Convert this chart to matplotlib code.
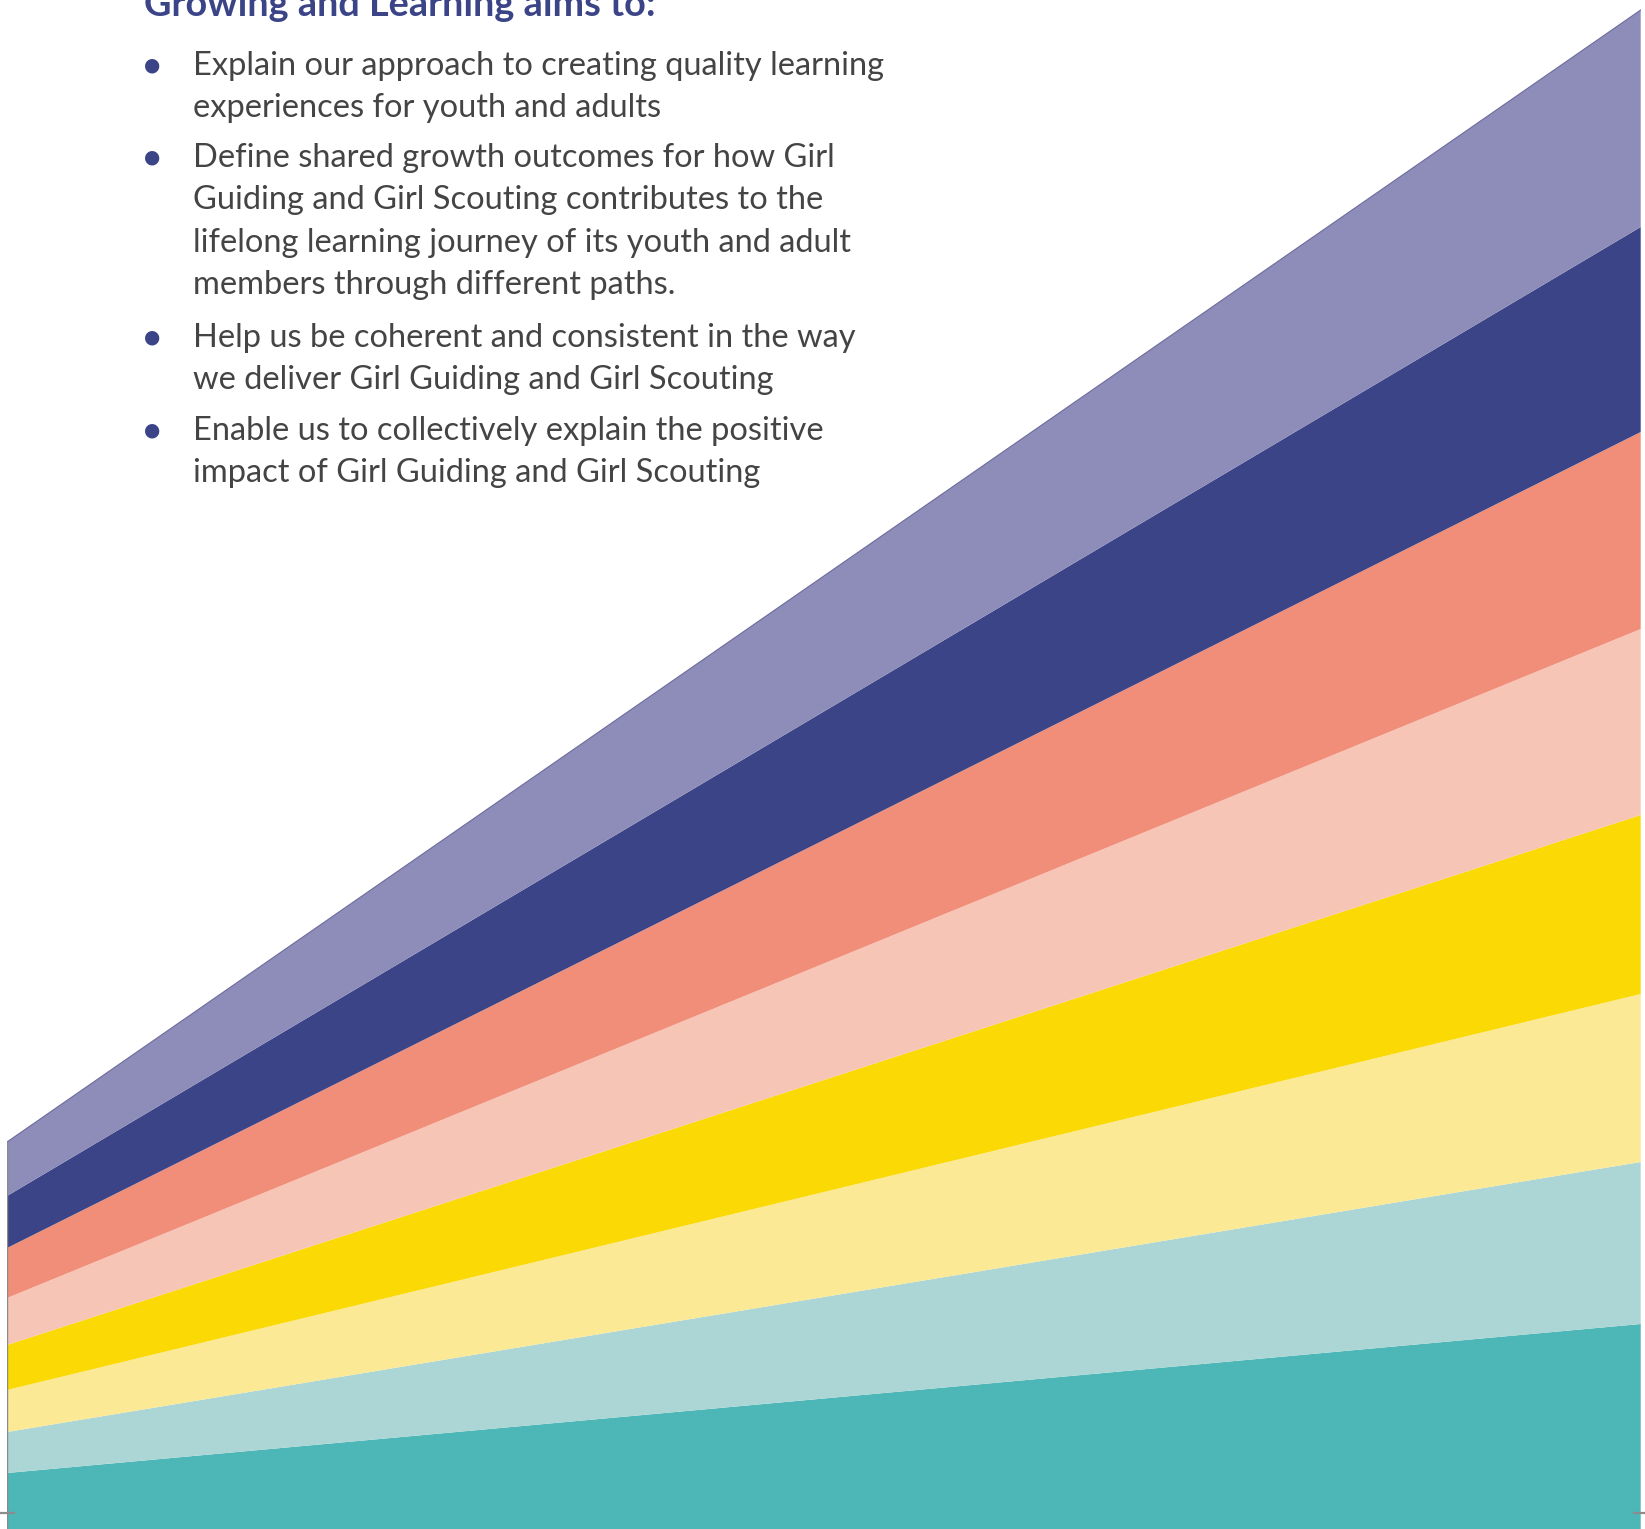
import matplotlib.pyplot as plt
from matplotlib.lines import Line2D

# band thicknesses (px) from bottom to top, at the left and right edge
bands = ['teal', 'light teal', 'light yellow', 'yellow', 'pink', 'salmon', 'navy', 'violet']
left_vals = [56, 41, 42, 45, 47, 50, 52, 54]
right_vals = [205, 162, 168, 179, 186, 197, 205, 217]
band_colors = ['#4db6b6', '#abd6d5', '#fbe995', '#fad905', '#f7c5b5', '#f18e79', '#3b4487', '#8e8cb9']

title = 'Growing and Learning aims to:'
bullets = [
    ['Explain our approach to creating quality learning',
     'experiences for youth and adults'],
    ['Define shared growth outcomes for how Girl',
     'Guiding and Girl Scouting contributes to the',
     'lifelong learning journey of its youth and adult',
     'members through different paths.'],
    ['Help us be coherent and consistent in the way',
     'we deliver Girl Guiding and Girl Scouting'],
    ['Enable us to collectively explain the positive',
     'impact of Girl Guiding and Girl Scouting'],
]

W, H = 1645, 1529
fig = plt.figure(figsize=(W / 100, H / 100), dpi=100)
fig.patch.set_facecolor('white')

ax = fig.add_axes([7 / W, 0, (1640.7 - 7) / W, 1])
x = [0, 1]
series = [[l, r] for l, r in zip(left_vals, right_vals)]
ax.stackplot(x, *series, colors=band_colors, linewidth=0)
ax.set_xlim(0, 1)
ax.set_ylim(0, H)
ax.axis('off')

# thin outline on the top edge and the left side
top = [sum(left_vals), sum(right_vals)]
ax.plot(x, top, color='#6d6b9c', lw=0.8)
ax.plot([0, 0], [0, top[0]], color='#8a8a8a', lw=1.0)

# crop marks
fig.add_artist(Line2D([0, 14 / W], [1 - 1513 / H] * 2, color='#8c8c8c', lw=1.6))
fig.add_artist(Line2D([1634 / W, 1], [1 - 1513 / H] * 2, color='#8c8c8c', lw=1.6))

# text block
navy = '#3b4487'
fig.text(144 / W, 1 - 16 / H, title, fontsize=27.3, fontweight='bold', color=navy,
         family=['Lato', 'DejaVu Sans'], va='baseline', ha='left')

starts = [75, 167, 347, 440]
line_gap = 42.3
for y0, lines in zip(starts, bullets):
    fig.text(152 / W, 1 - (y0 - 10) / H, '\u25CF', fontsize=13.5, color=navy,
             ha='center', va='center', family=['DejaVu Sans'])
    for i, line in enumerate(lines):
        fig.text(193 / W, 1 - (y0 + i * line_gap) / H, line, fontsize=23.5,
                 fontweight='normal', color='#444444', family=['Lato', 'DejaVu Sans'],
                 va='baseline', ha='left')

fig.savefig('out.png', dpi=100)
